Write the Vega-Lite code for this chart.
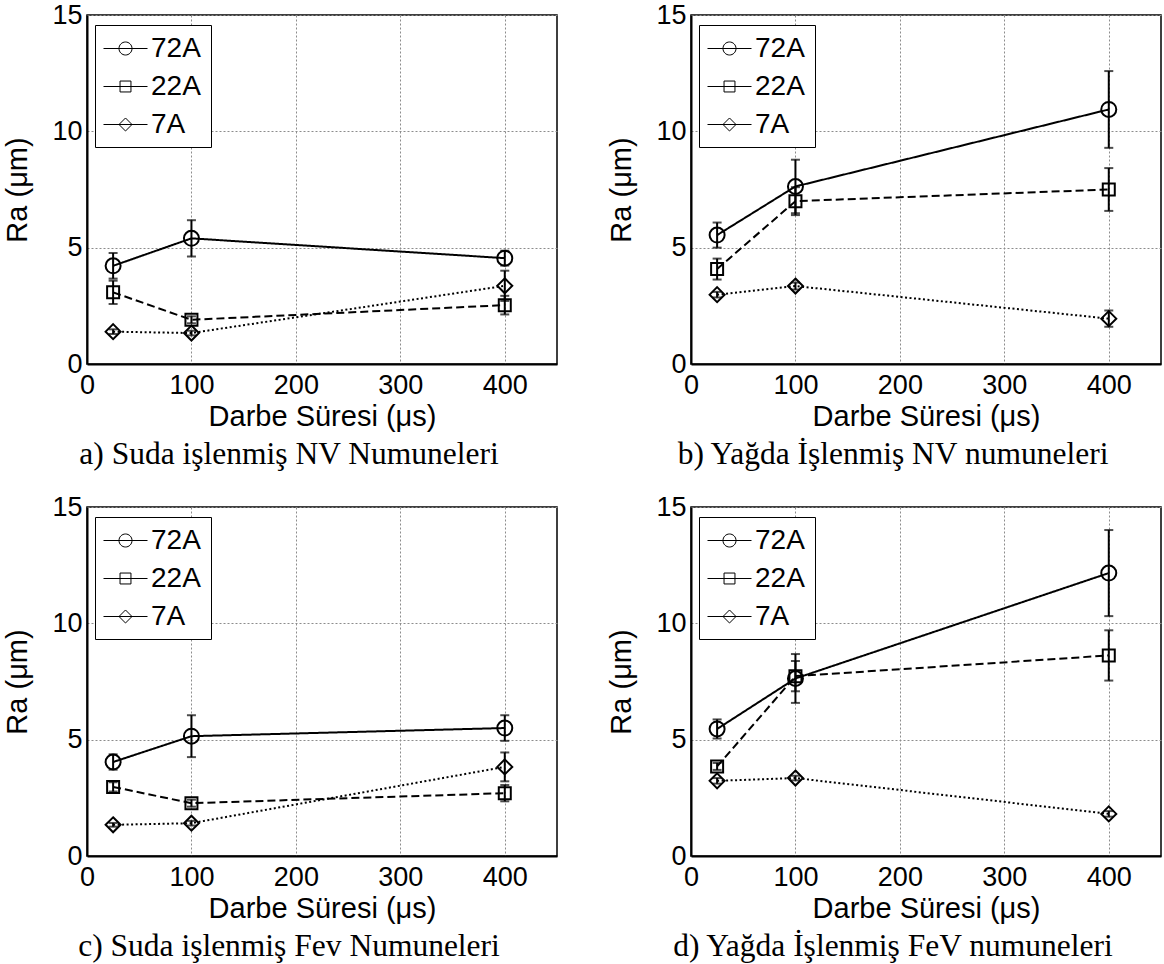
{
  "$schema": "https://vega.github.io/schema/vega-lite/v6.json",
  "background": "white",
  "padding": {"left": 2, "top": 0, "right": 0, "bottom": 0},
  "columns": 2,
  "bounds": "flush",
  "spacing": {"row": 143, "column": 134},
  "datasets": {
    "d": [
      {"panel": "a", "series": "72A", "x": 25, "y": 4.22, "lo": 3.67, "hi": 4.77},
      {"panel": "a", "series": "72A", "x": 100, "y": 5.40, "lo": 4.62, "hi": 6.18},
      {"panel": "a", "series": "72A", "x": 400, "y": 4.55, "lo": 4.23, "hi": 4.87},
      {"panel": "a", "series": "22A", "x": 25, "y": 3.08, "lo": 2.58, "hi": 3.58},
      {"panel": "a", "series": "22A", "x": 100, "y": 1.90, "lo": 1.75, "hi": 2.05},
      {"panel": "a", "series": "22A", "x": 400, "y": 2.53, "lo": 2.13, "hi": 2.93},
      {"panel": "a", "series": "7A", "x": 25, "y": 1.39, "lo": 1.29, "hi": 1.49},
      {"panel": "a", "series": "7A", "x": 100, "y": 1.33, "lo": 1.23, "hi": 1.43},
      {"panel": "a", "series": "7A", "x": 400, "y": 3.36, "lo": 2.71, "hi": 4.01},
      {"panel": "b", "series": "72A", "x": 25, "y": 5.54, "lo": 5.00, "hi": 6.08},
      {"panel": "b", "series": "72A", "x": 100, "y": 7.63, "lo": 6.48, "hi": 8.78},
      {"panel": "b", "series": "72A", "x": 400, "y": 10.94, "lo": 9.29, "hi": 12.59},
      {"panel": "b", "series": "22A", "x": 25, "y": 4.08, "lo": 3.63, "hi": 4.53},
      {"panel": "b", "series": "22A", "x": 100, "y": 7.00, "lo": 6.40, "hi": 7.60},
      {"panel": "b", "series": "22A", "x": 400, "y": 7.50, "lo": 6.58, "hi": 8.42},
      {"panel": "b", "series": "7A", "x": 25, "y": 2.98, "lo": 2.86, "hi": 3.10},
      {"panel": "b", "series": "7A", "x": 100, "y": 3.35, "lo": 3.20, "hi": 3.50},
      {"panel": "b", "series": "7A", "x": 400, "y": 1.95, "lo": 1.60, "hi": 2.30},
      {"panel": "c", "series": "72A", "x": 25, "y": 4.04, "lo": 3.71, "hi": 4.37},
      {"panel": "c", "series": "72A", "x": 100, "y": 5.15, "lo": 4.25, "hi": 6.05},
      {"panel": "c", "series": "72A", "x": 400, "y": 5.50, "lo": 4.95, "hi": 6.05},
      {"panel": "c", "series": "22A", "x": 25, "y": 2.97, "lo": 2.77, "hi": 3.17},
      {"panel": "c", "series": "22A", "x": 100, "y": 2.27, "lo": 2.12, "hi": 2.42},
      {"panel": "c", "series": "22A", "x": 400, "y": 2.70, "lo": 2.35, "hi": 3.05},
      {"panel": "c", "series": "7A", "x": 25, "y": 1.34, "lo": 1.26, "hi": 1.42},
      {"panel": "c", "series": "7A", "x": 100, "y": 1.41, "lo": 1.31, "hi": 1.51},
      {"panel": "c", "series": "7A", "x": 400, "y": 3.83, "lo": 3.21, "hi": 4.45},
      {"panel": "d", "series": "72A", "x": 25, "y": 5.46, "lo": 5.05, "hi": 5.87},
      {"panel": "d", "series": "72A", "x": 100, "y": 7.63, "lo": 6.58, "hi": 8.68},
      {"panel": "d", "series": "72A", "x": 400, "y": 12.16, "lo": 10.31, "hi": 14.01},
      {"panel": "d", "series": "22A", "x": 25, "y": 3.85, "lo": 3.70, "hi": 4.00},
      {"panel": "d", "series": "22A", "x": 100, "y": 7.73, "lo": 7.08, "hi": 8.38},
      {"panel": "d", "series": "22A", "x": 400, "y": 8.62, "lo": 7.54, "hi": 9.70},
      {"panel": "d", "series": "7A", "x": 25, "y": 3.23, "lo": 3.11, "hi": 3.35},
      {"panel": "d", "series": "7A", "x": 100, "y": 3.35, "lo": 3.25, "hi": 3.45},
      {"panel": "d", "series": "7A", "x": 400, "y": 1.81, "lo": 1.69, "hi": 1.93}
    ]
  },
  "concat": [
    {
      "width": 470, "height": 349,
      "title": {"text": "a) Suda işlenmiş NV Numuneleri", "orient": "bottom", "anchor": "middle", "frame": "group", "font": "Liberation Serif", "fontSize": 31.5, "fontWeight": "normal", "color": "black", "offset": 8, "dx": -33},
      "data": {"name": "d"},
      "transform": [{"filter": "datum.panel == 'a'"}],
      "resolve": {"scale": {"shape": "independent"}},
      "layer": [
        {"mark": {"type": "line", "color": "black", "strokeWidth": 2},
         "encoding": {
           "x": {"field": "x", "type": "quantitative", "title": "Darbe Süresi (μs)", "scale": {"domain": [0, 450], "nice": false}, "axis": {"values": [0, 100, 200, 300, 400], "labelFlush": false, "titleY": 52, "titleBaseline": "middle"}},
           "y": {"field": "y", "type": "quantitative", "title": "Ra (μm)", "scale": {"domain": [0, 15], "nice": false}, "axis": {"values": [0, 5, 10, 15], "titleX": -70, "titleY": 174.5, "titleBaseline": "middle"}},
           "strokeDash": {"field": "series", "type": "nominal", "scale": {"domain": ["72A", "22A", "7A"], "range": [[1, 0], [8, 4], [2, 2.5]]}, "legend": null}
         }},
        {"mark": {"type": "errorbar", "color": "black", "thickness": 2, "ticks": {"size": 9, "color": "black"}},
         "encoding": {
           "x": {"field": "x", "type": "quantitative", "title": "Darbe Süresi (μs)", "scale": {"domain": [0, 450], "nice": false}},
           "y": {"field": "lo", "type": "quantitative", "title": "Ra (μm)", "scale": {"domain": [0, 15], "nice": false}},
           "y2": {"field": "hi"}
         }},
        {"mark": {"type": "point", "filled": false, "color": "black", "strokeWidth": 2, "opacity": 1, "size": 225},
         "encoding": {
           "x": {"field": "x", "type": "quantitative", "title": "Darbe Süresi (μs)", "scale": {"domain": [0, 450], "nice": false}},
           "y": {"field": "y", "type": "quantitative", "title": "Ra (μm)", "scale": {"domain": [0, 15], "nice": false}},
           "shape": {"field": "series", "type": "nominal", "scale": {"domain": ["72A", "22A", "7A"], "range": ["circle", "M-0.8,-0.8L0.8,-0.8L0.8,0.8L-0.8,0.8Z", "M0,-1L1,0L0,1L-1,0Z"]}, "legend": null}
         }},
        {"transform": [{"filter": "datum.x < 0"}],
         "mark": {"type": "point", "filled": false, "color": "black", "strokeWidth": 1, "opacity": 1},
         "encoding": {
           "x": {"field": "x", "type": "quantitative", "title": "Darbe Süresi (μs)", "scale": {"domain": [0, 450], "nice": false}},
           "y": {"field": "y", "type": "quantitative", "title": "Ra (μm)", "scale": {"domain": [0, 15], "nice": false}},
           "shape": {"field": "series", "type": "nominal", "scale": {"domain": ["72A", "22A", "7A"], "range": ["M-1.25,0L1.25,0M0.37,0A0.37,0.37,0,1,1,-0.37,0A0.37,0.37,0,1,1,0.37,0ZM0,-0.87M0,0.87M4.43,0", "M-1.25,0L1.25,0M-0.31,-0.31L0.31,-0.31L0.31,0.31L-0.31,0.31ZM0,-0.87M0,0.87M4.43,0", "M-1.25,0L1.25,0M0,-0.37L0.37,0L0,0.37L-0.37,0ZM0,-0.87M0,0.87M4.43,0"]},
             "legend": {"title": null, "orient": "none", "legendX": 8, "legendY": 10, "padding": 5, "symbolSize": 1239, "symbolOffset": 7, "symbolStrokeWidth": 1, "symbolStrokeColor": "black", "symbolFillColor": "transparent", "labelOffset": 7, "labelFontSize": 28, "labelFont": "Liberation Sans", "labelColor": "black", "strokeColor": "black", "fillColor": "white"}}
         }}
      ]
    },
    {
      "width": 470, "height": 349,
      "title": {"text": "b) Yağda İşlenmiş NV numuneleri", "orient": "bottom", "anchor": "middle", "frame": "group", "font": "Liberation Serif", "fontSize": 31.5, "fontWeight": "normal", "color": "black", "offset": 8, "dx": -33},
      "data": {"name": "d"},
      "transform": [{"filter": "datum.panel == 'b'"}],
      "resolve": {"scale": {"shape": "independent"}},
      "layer": [
        {"mark": {"type": "line", "color": "black", "strokeWidth": 2},
         "encoding": {
           "x": {"field": "x", "type": "quantitative", "title": "Darbe Süresi (μs)", "scale": {"domain": [0, 450], "nice": false}, "axis": {"values": [0, 100, 200, 300, 400], "labelFlush": false, "titleY": 52, "titleBaseline": "middle"}},
           "y": {"field": "y", "type": "quantitative", "title": "Ra (μm)", "scale": {"domain": [0, 15], "nice": false}, "axis": {"values": [0, 5, 10, 15], "titleX": -70, "titleY": 174.5, "titleBaseline": "middle"}},
           "strokeDash": {"field": "series", "type": "nominal", "scale": {"domain": ["72A", "22A", "7A"], "range": [[1, 0], [8, 4], [2, 2.5]]}, "legend": null}
         }},
        {"mark": {"type": "errorbar", "color": "black", "thickness": 2, "ticks": {"size": 9, "color": "black"}},
         "encoding": {
           "x": {"field": "x", "type": "quantitative", "title": "Darbe Süresi (μs)", "scale": {"domain": [0, 450], "nice": false}},
           "y": {"field": "lo", "type": "quantitative", "title": "Ra (μm)", "scale": {"domain": [0, 15], "nice": false}},
           "y2": {"field": "hi"}
         }},
        {"mark": {"type": "point", "filled": false, "color": "black", "strokeWidth": 2, "opacity": 1, "size": 225},
         "encoding": {
           "x": {"field": "x", "type": "quantitative", "title": "Darbe Süresi (μs)", "scale": {"domain": [0, 450], "nice": false}},
           "y": {"field": "y", "type": "quantitative", "title": "Ra (μm)", "scale": {"domain": [0, 15], "nice": false}},
           "shape": {"field": "series", "type": "nominal", "scale": {"domain": ["72A", "22A", "7A"], "range": ["circle", "M-0.8,-0.8L0.8,-0.8L0.8,0.8L-0.8,0.8Z", "M0,-1L1,0L0,1L-1,0Z"]}, "legend": null}
         }},
        {"transform": [{"filter": "datum.x < 0"}],
         "mark": {"type": "point", "filled": false, "color": "black", "strokeWidth": 1, "opacity": 1},
         "encoding": {
           "x": {"field": "x", "type": "quantitative", "title": "Darbe Süresi (μs)", "scale": {"domain": [0, 450], "nice": false}},
           "y": {"field": "y", "type": "quantitative", "title": "Ra (μm)", "scale": {"domain": [0, 15], "nice": false}},
           "shape": {"field": "series", "type": "nominal", "scale": {"domain": ["72A", "22A", "7A"], "range": ["M-1.25,0L1.25,0M0.37,0A0.37,0.37,0,1,1,-0.37,0A0.37,0.37,0,1,1,0.37,0ZM0,-0.87M0,0.87M4.43,0", "M-1.25,0L1.25,0M-0.31,-0.31L0.31,-0.31L0.31,0.31L-0.31,0.31ZM0,-0.87M0,0.87M4.43,0", "M-1.25,0L1.25,0M0,-0.37L0.37,0L0,0.37L-0.37,0ZM0,-0.87M0,0.87M4.43,0"]},
             "legend": {"title": null, "orient": "none", "legendX": 8, "legendY": 10, "padding": 5, "symbolSize": 1239, "symbolOffset": 7, "symbolStrokeWidth": 1, "symbolStrokeColor": "black", "symbolFillColor": "transparent", "labelOffset": 7, "labelFontSize": 28, "labelFont": "Liberation Sans", "labelColor": "black", "strokeColor": "black", "fillColor": "white"}}
         }}
      ]
    },
    {
      "width": 470, "height": 349,
      "title": {"text": "c) Suda işlenmiş Fev Numuneleri", "orient": "bottom", "anchor": "middle", "frame": "group", "font": "Liberation Serif", "fontSize": 31.5, "fontWeight": "normal", "color": "black", "offset": 8, "dx": -33},
      "data": {"name": "d"},
      "transform": [{"filter": "datum.panel == 'c'"}],
      "resolve": {"scale": {"shape": "independent"}},
      "layer": [
        {"mark": {"type": "line", "color": "black", "strokeWidth": 2},
         "encoding": {
           "x": {"field": "x", "type": "quantitative", "title": "Darbe Süresi (μs)", "scale": {"domain": [0, 450], "nice": false}, "axis": {"values": [0, 100, 200, 300, 400], "labelFlush": false, "titleY": 52, "titleBaseline": "middle"}},
           "y": {"field": "y", "type": "quantitative", "title": "Ra (μm)", "scale": {"domain": [0, 15], "nice": false}, "axis": {"values": [0, 5, 10, 15], "titleX": -70, "titleY": 174.5, "titleBaseline": "middle"}},
           "strokeDash": {"field": "series", "type": "nominal", "scale": {"domain": ["72A", "22A", "7A"], "range": [[1, 0], [8, 4], [2, 2.5]]}, "legend": null}
         }},
        {"mark": {"type": "errorbar", "color": "black", "thickness": 2, "ticks": {"size": 9, "color": "black"}},
         "encoding": {
           "x": {"field": "x", "type": "quantitative", "title": "Darbe Süresi (μs)", "scale": {"domain": [0, 450], "nice": false}},
           "y": {"field": "lo", "type": "quantitative", "title": "Ra (μm)", "scale": {"domain": [0, 15], "nice": false}},
           "y2": {"field": "hi"}
         }},
        {"mark": {"type": "point", "filled": false, "color": "black", "strokeWidth": 2, "opacity": 1, "size": 225},
         "encoding": {
           "x": {"field": "x", "type": "quantitative", "title": "Darbe Süresi (μs)", "scale": {"domain": [0, 450], "nice": false}},
           "y": {"field": "y", "type": "quantitative", "title": "Ra (μm)", "scale": {"domain": [0, 15], "nice": false}},
           "shape": {"field": "series", "type": "nominal", "scale": {"domain": ["72A", "22A", "7A"], "range": ["circle", "M-0.8,-0.8L0.8,-0.8L0.8,0.8L-0.8,0.8Z", "M0,-1L1,0L0,1L-1,0Z"]}, "legend": null}
         }},
        {"transform": [{"filter": "datum.x < 0"}],
         "mark": {"type": "point", "filled": false, "color": "black", "strokeWidth": 1, "opacity": 1},
         "encoding": {
           "x": {"field": "x", "type": "quantitative", "title": "Darbe Süresi (μs)", "scale": {"domain": [0, 450], "nice": false}},
           "y": {"field": "y", "type": "quantitative", "title": "Ra (μm)", "scale": {"domain": [0, 15], "nice": false}},
           "shape": {"field": "series", "type": "nominal", "scale": {"domain": ["72A", "22A", "7A"], "range": ["M-1.25,0L1.25,0M0.37,0A0.37,0.37,0,1,1,-0.37,0A0.37,0.37,0,1,1,0.37,0ZM0,-0.87M0,0.87M4.43,0", "M-1.25,0L1.25,0M-0.31,-0.31L0.31,-0.31L0.31,0.31L-0.31,0.31ZM0,-0.87M0,0.87M4.43,0", "M-1.25,0L1.25,0M0,-0.37L0.37,0L0,0.37L-0.37,0ZM0,-0.87M0,0.87M4.43,0"]},
             "legend": {"title": null, "orient": "none", "legendX": 8, "legendY": 10, "padding": 5, "symbolSize": 1239, "symbolOffset": 7, "symbolStrokeWidth": 1, "symbolStrokeColor": "black", "symbolFillColor": "transparent", "labelOffset": 7, "labelFontSize": 28, "labelFont": "Liberation Sans", "labelColor": "black", "strokeColor": "black", "fillColor": "white"}}
         }}
      ]
    },
    {
      "width": 470, "height": 349,
      "title": {"text": "d) Yağda İşlenmiş FeV numuneleri", "orient": "bottom", "anchor": "middle", "frame": "group", "font": "Liberation Serif", "fontSize": 31.5, "fontWeight": "normal", "color": "black", "offset": 8, "dx": -33},
      "data": {"name": "d"},
      "transform": [{"filter": "datum.panel == 'd'"}],
      "resolve": {"scale": {"shape": "independent"}},
      "layer": [
        {"mark": {"type": "line", "color": "black", "strokeWidth": 2},
         "encoding": {
           "x": {"field": "x", "type": "quantitative", "title": "Darbe Süresi (μs)", "scale": {"domain": [0, 450], "nice": false}, "axis": {"values": [0, 100, 200, 300, 400], "labelFlush": false, "titleY": 52, "titleBaseline": "middle"}},
           "y": {"field": "y", "type": "quantitative", "title": "Ra (μm)", "scale": {"domain": [0, 15], "nice": false}, "axis": {"values": [0, 5, 10, 15], "titleX": -70, "titleY": 174.5, "titleBaseline": "middle"}},
           "strokeDash": {"field": "series", "type": "nominal", "scale": {"domain": ["72A", "22A", "7A"], "range": [[1, 0], [8, 4], [2, 2.5]]}, "legend": null}
         }},
        {"mark": {"type": "errorbar", "color": "black", "thickness": 2, "ticks": {"size": 9, "color": "black"}},
         "encoding": {
           "x": {"field": "x", "type": "quantitative", "title": "Darbe Süresi (μs)", "scale": {"domain": [0, 450], "nice": false}},
           "y": {"field": "lo", "type": "quantitative", "title": "Ra (μm)", "scale": {"domain": [0, 15], "nice": false}},
           "y2": {"field": "hi"}
         }},
        {"mark": {"type": "point", "filled": false, "color": "black", "strokeWidth": 2, "opacity": 1, "size": 225},
         "encoding": {
           "x": {"field": "x", "type": "quantitative", "title": "Darbe Süresi (μs)", "scale": {"domain": [0, 450], "nice": false}},
           "y": {"field": "y", "type": "quantitative", "title": "Ra (μm)", "scale": {"domain": [0, 15], "nice": false}},
           "shape": {"field": "series", "type": "nominal", "scale": {"domain": ["72A", "22A", "7A"], "range": ["circle", "M-0.8,-0.8L0.8,-0.8L0.8,0.8L-0.8,0.8Z", "M0,-1L1,0L0,1L-1,0Z"]}, "legend": null}
         }},
        {"transform": [{"filter": "datum.x < 0"}],
         "mark": {"type": "point", "filled": false, "color": "black", "strokeWidth": 1, "opacity": 1},
         "encoding": {
           "x": {"field": "x", "type": "quantitative", "title": "Darbe Süresi (μs)", "scale": {"domain": [0, 450], "nice": false}},
           "y": {"field": "y", "type": "quantitative", "title": "Ra (μm)", "scale": {"domain": [0, 15], "nice": false}},
           "shape": {"field": "series", "type": "nominal", "scale": {"domain": ["72A", "22A", "7A"], "range": ["M-1.25,0L1.25,0M0.37,0A0.37,0.37,0,1,1,-0.37,0A0.37,0.37,0,1,1,0.37,0ZM0,-0.87M0,0.87M4.43,0", "M-1.25,0L1.25,0M-0.31,-0.31L0.31,-0.31L0.31,0.31L-0.31,0.31ZM0,-0.87M0,0.87M4.43,0", "M-1.25,0L1.25,0M0,-0.37L0.37,0L0,0.37L-0.37,0ZM0,-0.87M0,0.87M4.43,0"]},
             "legend": {"title": null, "orient": "none", "legendX": 8, "legendY": 10, "padding": 5, "symbolSize": 1239, "symbolOffset": 7, "symbolStrokeWidth": 1, "symbolStrokeColor": "black", "symbolFillColor": "transparent", "labelOffset": 7, "labelFontSize": 28, "labelFont": "Liberation Sans", "labelColor": "black", "strokeColor": "black", "fillColor": "white"}}
         }}
      ]
    }
  ],
  "resolve": {"legend": {"shape": "independent"}},
  "config": {
    "font": "Liberation Sans",
    "view": {"stroke": "black", "strokeWidth": 1.5},
    "axis": {"domainColor": "black", "domainWidth": 2, "grid": true, "gridColor": "#8c8c8c", "gridDash": [2, 2], "gridWidth": 1, "gridOpacity": 1, "ticks": false, "labelFont": "Liberation Sans", "labelFontSize": 27, "labelColor": "black", "titleFont": "Liberation Sans", "titleFontSize": 29, "titleFontWeight": "normal", "titleColor": "black"},
    "axisX": {"labelPadding": 8},
    "axisY": {"labelPadding": 5}
  }
}
